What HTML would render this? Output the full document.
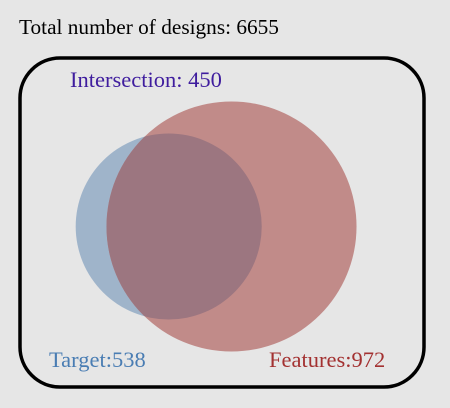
<!DOCTYPE html>
<html><head><meta charset="utf-8"><style>
body{margin:0;background:#e6e6e6;}
svg{display:block;font-family:"Liberation Serif",serif;}
</style></head><body>
<svg width="450" height="408" viewBox="0 0 450 408">
<rect x="0" y="0" width="450" height="408" fill="#e6e6e6"/>
<text x="19" y="34" font-size="21.3" fill="#000" id="total">Total number of designs: 6655</text>
<rect x="20" y="58" width="404" height="329" rx="40" ry="40" fill="none" stroke="#000" stroke-width="3.5"/>
<g id="marks"></g>
<text x="70" y="87" font-size="22.5" fill="#3f1d9e" id="inter">Intersection: 450</text>
<text x="49" y="367" font-size="22.5" fill="#4a7db3" id="tlabel">Target:538</text>
<text x="269" y="367" font-size="22.5" fill="#a33131" id="flabel">Features:972</text>
</svg>
<script>
const setNames = ["Target", "Features"];
const setSizes = [538, 972];
const intersectionSize = [450];
const totalDesigns = [6655];

const NS = "http://www.w3.org/2000/svg";
const k = 4.01;
function radius(n){ return k*Math.sqrt(n); }
const rA = radius(setSizes[0]), rB = radius(setSizes[1]);
const cy = 226.5;
const cxA = 168.7;
const overlapFrac = intersectionSize[0] / Math.min(setSizes[0], setSizes[1]);
const d = 62.8 * (1 - overlapFrac) / (1 - 450/538);
const cxB = cxA + d;
const g = document.getElementById('marks');

const defs = document.createElementNS(NS,'defs');
const cp = document.createElementNS(NS,'clipPath');
cp.setAttribute('id','clipA');
const cc = document.createElementNS(NS,'circle');
cc.setAttribute('cx',cxA); cc.setAttribute('cy',cy); cc.setAttribute('r',rA);
cp.appendChild(cc); defs.appendChild(cp); g.appendChild(defs);

const a = document.createElementNS(NS,'circle');
a.setAttribute('cx',cxA); a.setAttribute('cy',cy); a.setAttribute('r',rA); a.setAttribute('fill','#9fb4ca');


g.appendChild(a);

const b = document.createElementNS(NS,'circle');
b.setAttribute('cx',cxB); b.setAttribute('cy',cy); b.setAttribute('r',rB); b.setAttribute('fill','#c18b89');


g.appendChild(b);

const o = document.createElementNS(NS,'circle');
o.setAttribute('cx',cxB); o.setAttribute('cy',cy); o.setAttribute('r',rB); o.setAttribute('fill','#9c7680');
o.setAttribute('clip-path','url(#clipA)');


g.appendChild(o);

document.getElementById('total').textContent = 'Total number of designs: ' + totalDesigns[0];
document.getElementById('inter').textContent = 'Intersection: ' + intersectionSize[0];
document.getElementById('tlabel').textContent = setNames[0] + ':' + setSizes[0];
document.getElementById('flabel').textContent = setNames[1] + ':' + setSizes[1];
</script>
</body></html>
